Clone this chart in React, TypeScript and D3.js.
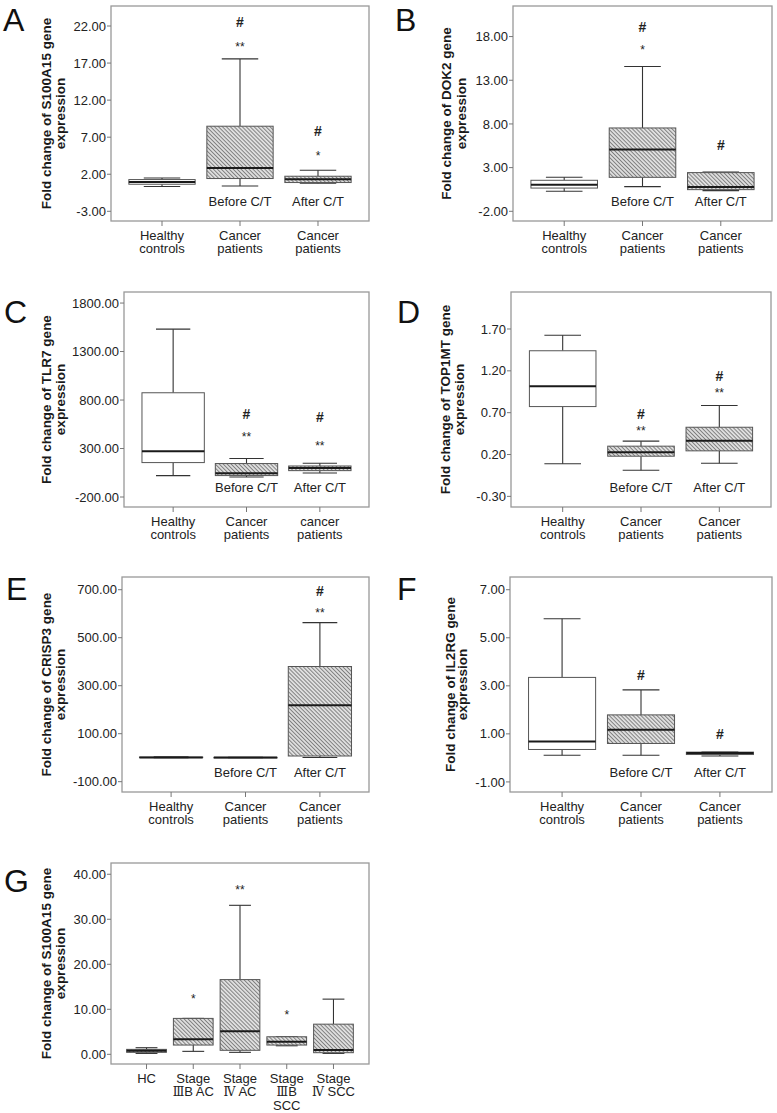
import React from "react"
import * as d3 from "d3"

// five-number summaries per group: [whisker low, q1, median, q3, whisker high]
const catsStd = [["Healthy", "controls"], ["Cancer", "patients"], ["Cancer", "patients"]]
const catsC = [["Healthy", "controls"], ["Cancer", "patients"], ["cancer", "patients"]]
const catsG = [["HC"], ["Stage", "ⅢB AC"], ["Stage", "Ⅳ AC"], ["Stage", "ⅢB", "SCC"], ["Stage", "Ⅳ SCC"]]
const subLabels = ["", "Before C/T", "After C/T"]

const statsA = [[0.34, 0.65, 0.96, 1.28, 1.5], [0.42, 1.42, 2.85, 8.48, 17.56], [0.79, 0.88, 1.33, 1.73, 2.54]]
const statsB = [[0.29, 0.66, 1.05, 1.55, 1.89], [0.82, 1.89, 5.06, 7.54, 14.57], [0.37, 0.48, 0.78, 2.43, 2.5]]
const statsC = [[21, 155, 272, 875, 1531], [6, 21, 45, 145, 197], [48, 72, 100, 120, 148]]
const statsD = [[0.089, 0.773, 1.016, 1.44, 1.625], [0.012, 0.18, 0.227, 0.3, 0.36], [0.096, 0.244, 0.364, 0.526, 0.785]]
const statsE = [[0.3, 0.6, 1.0, 2.5, 4.0], [0.2, 0.4, 0.7, 1.2, 1.8], [0.5, 7, 218.5, 380, 563]]
const statsF = [[0.11, 0.35, 0.68, 3.35, 5.79], [0.11, 0.6, 1.17, 1.79, 2.83], [0.08, 0.14, 0.2, 0.24, 0.24]]
const statsG = [[0.2, 0.44, 0.8, 1.1, 1.47], [0.66, 2.06, 3.33, 7.98, 7.98], [0.44, 0.89, 5.1, 16.6, 33.1], [1.9, 2.06, 2.8, 3.9, 3.9], [0.2, 0.36, 0.95, 6.7, 12.26]]

const ticksA = [22, 17, 12, 7, 2, -3]
const ticksB = [18, 13, 8, 3, -2]
const ticksC = [1800, 1300, 800, 300, -200]
const ticksD = [1.7, 1.2, 0.7, 0.2, -0.3]
const ticksE = [700, 500, 300, 100, -100]
const ticksF = [7, 5, 3, 1, -1]
const ticksG = [40, 30, 20, 10, 0]

// significance marks: [group index, text, y value]
const marksA = [[1, "#", 22.5], [1, "**", 19.7], [2, "#", 7.8], [2, "*", 4.97]]
const marksB = [[1, "#", 19.1], [1, "*", 16.9], [2, "#", 5.63]]
const marksC = [[1, "#", 655], [1, "**", 455], [2, "#", 624], [2, "**", 362]]
const marksD = [[1, "#", 0.69], [1, "**", 0.526], [2, "#", 1.135], [2, "**", 0.977]]
const marksE = [[2, "#", 693], [2, "**", 619]]
const marksF = [[1, "#", 3.45], [2, "#", 0.975]]
const marksG = [[1, "*", 13.0], [2, "**", 37.2], [3, "*", 9.45]]

const panels = [
  { letter: "A", lx: 3, ly: 31, gene: "S100A15", cats: catsStd, stats: statsA, ticks: ticksA, marks: marksA, domain: [-4.31, 24.7], frame: [111, 369, 6, 221], tx: [46.7, 60], fills: ["white", "hatch", "hatch"], sub: true, pad: 0.654 },
  { letter: "B", lx: 395, ly: 31, gene: "DOK2", cats: catsStd, stats: statsB, ticks: ticksB, marks: marksB, domain: [-3.11, 21.5], frame: [513, 772, 6, 221], tx: [446.7, 461], fills: ["white", "hatch", "hatch"], sub: true, pad: 0.654 },
  { letter: "C", lx: 4, ly: 323, gene: "TLR7", cats: catsC, stats: statsC, ticks: ticksC, marks: marksC, domain: [-303, 1914], frame: [124, 369, 292, 507], tx: [46.7, 60], fills: ["white", "hatch", "hatch"], sub: true, pad: 0.67 },
  { letter: "D", lx: 397, ly: 323, gene: "TOP1MT", cats: catsStd, stats: statsD, ticks: ticksD, marks: marksD, domain: [-0.427, 2.142], frame: [511, 771, 292, 507], tx: [445, 459.3], fills: ["white", "hatch", "hatch"], sub: true, pad: 0.66 },
  { letter: "E", lx: 6, ly: 600, gene: "CRISP3", cats: catsStd, stats: statsE, ticks: ticksE, marks: marksE, domain: [-143, 753], frame: [122, 369, 577, 792], tx: [46.7, 60], fills: ["white", "hatch", "hatch"], sub: true, pad: 0.66 },
  { letter: "F", lx: 397, ly: 600, gene: "IL2RG", cats: catsStd, stats: statsF, ticks: ticksF, marks: marksF, domain: [-1.42, 7.53], frame: [510, 772, 577, 792], tx: [450, 462.7], fills: ["white", "hatch", "hatch"], sub: true, pad: 0.66 },
  { letter: "G", lx: 4, ly: 892, gene: "S100A15", cats: catsG, stats: statsG, ticks: ticksG, marks: marksG, domain: [-2.15, 42.5], frame: [111, 369, 863, 1064], tx: [46.7, 60], fills: ["hatch", "hatch", "hatch", "hatch", "hatch"], sub: false, pad: 0.76 },
]

const FONT = "'Liberation Sans', Arial, sans-serif"

function CatLine({ text, x, y }) {
  // roman numerals in the stage labels are set in a serif face
  const m = text.match(/^([ⅢⅣ])(.*)$/)
  if (!m) return <text x={x} y={y} textAnchor="middle">{text}</text>
  return (
    <text x={x} y={y} textAnchor="middle">
      <tspan fontFamily="'DejaVu Serif', serif" fontSize={12}>{m[1]}</tspan>
      <tspan>{m[2]}</tspan>
    </text>
  )
}

function Panel({ p }) {
  const [x0, x1, y0, y1] = p.frame
  const y = d3.scaleLinear().domain(p.domain).range([y1, y0])
  const x = d3.scalePoint().domain(p.cats.map((_, i) => String(i))).range([x0, x1]).padding(p.pad)
  const bw = x.step() * 0.85
  const cw = bw * 0.55
  const cy = (y0 + y1) / 2

  return (
    <g fontFamily={FONT}>
      <text x={p.lx} y={p.ly} fontSize={32} fill="#111">{p.letter}</text>

      <rect x={x0} y={y0} width={x1 - x0} height={y1 - y0} fill="white" stroke="#999" strokeWidth={1.3} />

      {p.ticks.map((t) => (
        <g key={t}>
          <line x1={x0 - 4} x2={x0} y1={y(t)} y2={y(t)} stroke="#777" />
          <text x={x0 - 5} y={y(t) + 4.6} textAnchor="end" fontSize={13} fill="#222">{t.toFixed(2)}</text>
        </g>
      ))}

      <g transform={`translate(${p.tx[0]},${cy}) rotate(-90)`}>
        <text textAnchor="middle" dy="0.35em" fontSize={13.5} fontWeight="bold" fill="#1a1a1a">{`Fold change of ${p.gene} gene`}</text>
      </g>
      <g transform={`translate(${p.tx[1]},${cy}) rotate(-90)`}>
        <text textAnchor="middle" dy="0.35em" fontSize={13.5} fontWeight="bold" fill="#1a1a1a">expression</text>
      </g>

      {p.stats.map((s, i) => {
        const cx = x(String(i))
        const [lo, q1, med, q3, hi] = s
        return (
          <g key={i}>
            <line x1={cx} x2={cx} y1={y(hi)} y2={y(q3)} stroke="#333" strokeWidth={1.1} />
            <line x1={cx} x2={cx} y1={y(q1)} y2={y(lo)} stroke="#333" strokeWidth={1.1} />
            <line x1={cx - cw / 2} x2={cx + cw / 2} y1={y(hi)} y2={y(hi)} stroke="#333" strokeWidth={1.1} />
            <line x1={cx - cw / 2} x2={cx + cw / 2} y1={y(lo)} y2={y(lo)} stroke="#333" strokeWidth={1.1} />
            <rect x={cx - bw / 2} y={y(q3)} width={bw} height={Math.max(0.5, y(q1) - y(q3))}
              fill={p.fills[i] === "hatch" ? "url(#hatch)" : "white"} stroke="#555" />
            <line x1={cx - bw / 2} x2={cx + bw / 2} y1={y(med)} y2={y(med)} stroke="#1a1a1a" strokeWidth={2} />
            <line x1={cx} x2={cx} y1={y1} y2={y1 + 5} stroke="#777" />
          </g>
        )
      })}

      {p.marks.map(([i, t, v], k) => (
        <text key={k} x={x(String(i))} y={y(v) + (t === "#" ? 5 : 7.5)} textAnchor="middle"
          fontSize={t === "#" ? 14 : 12} fontWeight={t === "#" ? "bold" : "normal"} fill="#222">{t}</text>
      ))}

      {p.sub && subLabels.map((t, i) => t && (
        <text key={t} x={x(String(i))} y={y1 - 15.5} textAnchor="middle" fontSize={13} fill="#222">{t}</text>
      ))}

      <g fontSize={13} fill="#222">
        {p.cats.map((lines, i) => lines.map((t, j) => (
          <CatLine key={`${i}-${j}`} text={t} x={x(String(i))} y={y1 + 19 + j * 13.3} />
        )))}
      </g>
    </g>
  )
}

export default function App() {
  return (
    <svg width={777} height={1113} style={{ position: "absolute", left: 0, top: 0, background: "white" }}>
      <defs>
        <pattern id="hatch" width={2.8} height={2.8} patternUnits="userSpaceOnUse" patternTransform="rotate(-45)">
          <rect width={2.8} height={2.8} fill="#dedede" />
          <line x1={0} y1={0} x2={0} y2={2.8} stroke="#4a4a4a" strokeWidth={1.2} />
        </pattern>
      </defs>
      {panels.map((p) => <Panel key={p.letter} p={p} />)}
    </svg>
  )
}
